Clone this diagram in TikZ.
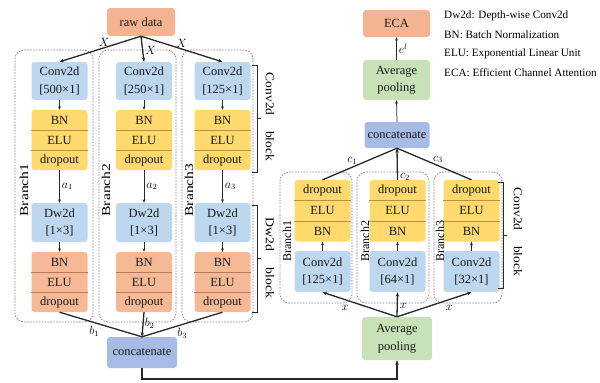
\documentclass[tikz,border=0pt]{standalone}
\usepackage{fontspec}
\setmainfont{Liberation Serif}
\usetikzlibrary{arrows.meta,calc}
\definecolor{csalmon}{RGB}{244,180,145}
\definecolor{corange}{RGB}{246,185,150}
\definecolor{cblue}{RGB}{189,215,238}
\definecolor{cyellow}{RGB}{253,217,110}
\definecolor{ccat}{RGB}{166,188,230}
\definecolor{cgreen}{RGB}{199,226,182}
\definecolor{divy}{RGB}{185,145,65}
\definecolor{divo}{RGB}{185,120,90}
\definecolor{lineC}{RGB}{40,40,40}
\definecolor{dashC}{RGB}{130,130,148}
\newcommand{\mkstack}[9]{%
  \node[stk, fill=#5, minimum height=3*#4pt] (#1) at (#2,{#3+1.5*#4}) {};
  \draw[draw=#6, line width=0.7pt] ($(#1.north west)!1/3!(#1.south west)$) -- ($(#1.north east)!1/3!(#1.south east)$);
  \draw[draw=#6, line width=0.7pt] ($(#1.north west)!2/3!(#1.south west)$) -- ($(#1.north east)!2/3!(#1.south east)$);
  \node[txt] (#1-1) at (#2,{#3+0.5*#4}) {#7};
  \node[txt] (#1-2) at (#2,{#3+1.5*#4}) {#8};
  \node[txt] (#1-3) at (#2,{#3+2.5*#4}) {#9};
}
\begin{document}
\begin{tikzpicture}[x=1pt,y=-1pt,
  txt/.style={inner sep=0pt, font=\fontsize{12.5}{17.5}\selectfont, align=center, text=black!90},
  box/.style={txt, rounded corners=3pt, minimum width=56pt},
  stk/.style={rounded corners=3pt, inner sep=0pt, minimum width=56pt},
  dbox/.style={draw=dashC, dash pattern=on 1.6pt off 1.3pt, line width=0.75pt, rounded corners=9pt, inner sep=0pt},
  con/.style={draw=lineC, line width=1.3pt},
  arr/.style={-{Stealth[length=4.5pt,width=3.5pt]}},
  sarr/.style={draw=lineC, line width=0.75pt, -{Stealth[length=3.5pt,width=2.8pt]}},
  lab/.style={inner sep=0pt, font=\fontsize{11.5}{11.5}\selectfont},
  vlab/.style={inner sep=0pt, font=\fontsize{12}{12}\selectfont},
  legend/.style={inner sep=0pt, anchor=west, font=\fontsize{11.2}{13}\selectfont},
  brk/.style={draw=lineC, line width=0.8pt}
]
\useasboundingbox (0,0) rectangle (600,383);

% ---------------- left part ----------------
\node[dbox, minimum width=78pt, minimum height=272pt] (LB1) at (54,186) {};
\node[dbox, minimum width=77pt, minimum height=272pt] (LB2) at (137.5,186) {};
\node[dbox, minimum width=71pt, minimum height=272pt] (LB3) at (217.5,186) {};

\node[box, fill=csalmon, minimum width=68pt, minimum height=28pt] (raw) at (141,22) {raw data};

\node[box, fill=cblue, minimum height=38pt] (L1c) at (59.5,81) {Conv2d\\{[500×1]}};
\node[box, fill=cblue, minimum height=38pt] (L2c) at (144,81) {Conv2d\\{[250×1]}};
\node[box, fill=cblue, minimum height=38pt] (L3c) at (222.5,81) {Conv2d\\{[125×1]}};

\mkstack{L1s}{59.5}{110}{20}{cyellow}{divy}{BN}{ELU}{dropout}
\mkstack{L2s}{144}{110}{20}{cyellow}{divy}{BN}{ELU}{dropout}
\mkstack{L3s}{222.5}{110}{20}{cyellow}{divy}{BN}{ELU}{dropout}

\node[box, fill=cblue, minimum height=39pt] (L1d) at (59.5,222.5) {Dw2d\\{[1×3]}};
\node[box, fill=cblue, minimum height=39pt] (L2d) at (144,222.5) {Dw2d\\{[1×3]}};
\node[box, fill=cblue, minimum height=39pt] (L3d) at (222.5,222.5) {Dw2d\\{[1×3]}};

\mkstack{L1o}{59.5}{252}{20}{corange}{divo}{BN}{ELU}{dropout}
\mkstack{L2o}{144}{252}{20}{corange}{divo}{BN}{ELU}{dropout}
\mkstack{L3o}{222.5}{252}{20}{corange}{divo}{BN}{ELU}{dropout}

\node[box, fill=ccat, minimum width=70pt, minimum height=31pt] (cat1) at (142,352.5) {concatenate};

\node[vlab, rotate=90] (tb1) at (24,190) {\scalebox{1.3}[1]{Branch1}};
\node[vlab, rotate=90] (tb2) at (106,190) {\scalebox{1.3}[1]{Branch2}};
\node[vlab, rotate=90] (tb3) at (189,190) {\scalebox{1.3}[1]{Branch3}};

% fan from raw data
\draw[con, arr] (raw.south) -- node[lab, pos=0.45, above=1pt] {$X$} (L1c.north);
\draw[con, arr] (raw.south) -- node[lab, pos=0.55, right=2pt] {$X$} (L2c.north);
\draw[con, arr] (raw.south) -- node[lab, pos=0.5, above=1pt] {$X$} (L3c.north);

\foreach \i in {1,2,3} {
  \draw[sarr] (L\i c.south) -- (L\i s.north);
  \draw[sarr] (L\i d.south) -- (L\i o.north);
}
\draw[sarr] (L1s.south) -- node[lab, right=2pt] {$a_1$} (L1d.north);
\draw[sarr] (L2s.south) -- node[lab, right=2pt] {$a_2$} (L2d.north);
\draw[sarr] (L3s.south) -- node[lab, right=2pt] {$a_3$} (L3d.north);

\draw[con] (L1o.south) -- node[lab, pos=0.42, below=3pt] {$b_1$} (cat1.north);
\draw[con, arr] (L2o.south) -- node[lab, pos=0.45, right=1pt] {$b_2$} (cat1.north);
\draw[con] (L3o.south) -- node[lab, pos=0.5, below=3pt] {$b_3$} (cat1.north);

% brackets left
\coordinate (bkA1) at (252,65);  \coordinate (bkA2) at (252,172);
\draw[brk] (bkA1) -- ++(5,0) |- (bkA2);
\draw[brk] ($(bkA1)!0.5!(bkA2)+(5,0)$) -- ++(4,0);
\node[vlab, rotate=-90] (blk1) at (270,117) {\scalebox{1.12}[1]{Conv2d\hspace{14pt}block}};
\coordinate (bkB1) at (252,205); \coordinate (bkB2) at (252,312);
\draw[brk] (bkB1) -- ++(5,0) |- (bkB2);
\draw[brk] ($(bkB1)!0.5!(bkB2)+(5,0)$) -- ++(4,0);
\node[vlab, rotate=-90] (blk2) at (270,258) {\scalebox{1.15}[1]{Dw2d\hspace{14pt}block}};

% ---------------- right part ----------------
\node[dbox, minimum width=72pt, minimum height=131pt] (RB1) at (316,237.5) {};
\node[dbox, minimum width=72pt, minimum height=131pt] (RB2) at (393,237.5) {};
\node[dbox, minimum width=68pt, minimum height=131pt] (RB3) at (468,237.5) {};

\node[box, fill=csalmon, minimum width=67pt, minimum height=27pt] (eca) at (396.5,23.5) {ECA};
\node[box, fill=cgreen, minimum width=67pt, minimum height=40pt] (avg1) at (396.5,80) {Average\\pooling};
\node[box, fill=ccat, minimum width=65pt, minimum height=26pt] (cat2) at (397,135) {concatenate};

\mkstack{R1s}{322.5}{180}{20.5}{cyellow}{divy}{dropout}{ELU}{BN}
\mkstack{R2s}{397.5}{180}{20.5}{cyellow}{divy}{dropout}{ELU}{BN}
\mkstack{R3s}{471.5}{180}{20.5}{cyellow}{divy}{dropout}{ELU}{BN}

\node[box, fill=cblue, minimum height=41pt] (R1c) at (322.5,271.5) {Conv2d\\{[125×1]}};
\node[box, fill=cblue, minimum height=41pt] (R2c) at (397.5,271.5) {Conv2d\\{[64×1]}};
\node[box, fill=cblue, minimum height=41pt] (R3c) at (471.5,271.5) {Conv2d\\{[32×1]}};

\node[box, fill=cgreen, minimum width=70pt, minimum height=43pt] (avg2) at (397,338.5) {Average\\pooling};

\node[vlab, rotate=90] (rt1) at (287,241) {Branch1};
\node[vlab, rotate=90] (rt2) at (365,241) {Branch2};
\node[vlab, rotate=90] (rt3) at (440,241) {Branch3};

\draw[sarr] (avg1.north) -- node[lab, right=2pt] {$e^l$} (eca.south);
\draw[sarr] (cat2.north) -- (avg1.south);

\draw[con] (R1s.north) -- node[lab, pos=0.4, above=2pt] {$c_1$} (cat2.south);
\draw[con, arr] (R2s.north) -- node[lab, pos=0.1, right=2pt] {$c_2$} (cat2.south);
\draw[con] (R3s.north) -- node[lab, pos=0.45, above=2pt] {$c_3$} (cat2.south);

\foreach \i in {1,2,3} { \draw[sarr] (R\i c.north) -- (R\i s.south); }

\draw[con, arr] (avg2.north) -- node[lab, pos=0.7, below=5pt] {$x$} (R1c.south);
\draw[con, arr] (avg2.north) -- node[lab, pos=0.45, right=2pt] {$x$} (R2c.south);
\draw[con, arr] (avg2.north) -- node[lab, pos=0.7, below=5pt] {$x$} (R3c.south);

\coordinate (bkC1) at (498,182); \coordinate (bkC2) at (498,288);
\draw[brk] (bkC1) -- ++(5,0) |- (bkC2);
\draw[brk] ($(bkC1)!0.5!(bkC2)+(5,0)$) -- ++(4,0);
\node[vlab, rotate=-90] (blk3) at (518,232) {\scalebox{1.12}[1]{Conv2d\hspace{14pt}block}};

% bottom link
\coordinate (low) at (0,379);
\draw[con, arr] (cat1.south) -- (cat1.south |- low) -| (avg2.south);

% legend
\node[legend] (lg1) at (444,16) {Dw2d: Depth-wise Conv2d};
\node[legend] (lg2) at (444,35) {BN: Batch Normalization};
\node[legend] (lg3) at (444,54) {ELU: Exponential Linear Unit};
\node[legend] (lg4) at (444,73) {ECA: Efficient Channel Attention};
\end{tikzpicture}
\end{document}
